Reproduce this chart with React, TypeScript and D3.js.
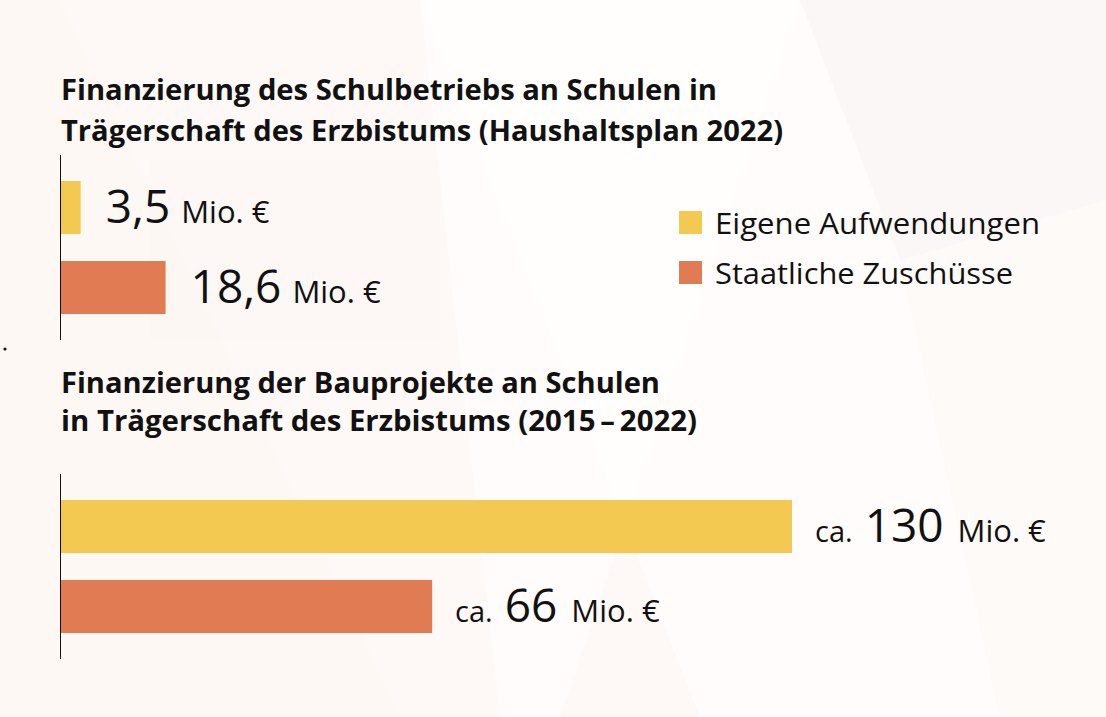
import * as d3 from "d3";

const series = ["Eigene Aufwendungen", "Staatliche Zuschüsse"];
const colors = ["#F4C952", "#E17B53"];

// Schulbetrieb (Haushaltsplan 2022), Mio. €
const betriebValues = [3.5, 18.6];
const betriebLabels = ["3,5", "18,6"];

// Bauprojekte (2015–2022), Mio. €
const bauValues = [130, 66];
const bauLabels = ["130", "66"];

const title1 = [
  "Finanzierung des Schulbetriebs an Schulen in",
  "Trägerschaft des Erzbistums (Haushaltsplan 2022)",
];
const title2 = [
  "Finanzierung der Bauprojekte an Schulen",
  "in Trägerschaft des Erzbistums (2015\u2009–\u20092022)",
];

const W = 1106;
const H = 717;
const FONT = "'Open Sans', 'Noto Sans', sans-serif";

const x = d3.scaleLinear().domain([0, 130]).range([61, 792]);

const y1 = d3.scaleBand<string>().domain(series).range([181, 314]).paddingInner(0.3375);
const y2 = d3.scaleBand<string>().domain(series).range([500, 633]).paddingInner(0.3375);

const legendWidths = [325, 298];

interface BarsProps {
  y: d3.ScaleBand<string>;
  values: number[];
  labels: string[];
  prefix?: boolean;
}

const Bars = ({ y, values, labels, prefix }: BarsProps) => {
  const [r0, r1] = y.range();
  return (
    <g>
      <line x1={60.5} x2={60.5} y1={r0 - 26} y2={r1 + 26} stroke="#111" strokeWidth={1} />
      {series.map((s, i) => {
        const top = y(s)!;
        const bw = y.bandwidth();
        const base = top + bw / 2 + 15;
        const lx = x(values[i]) + (prefix ? 23 : 25);
        return (
          <g key={s}>
            <rect x={x(0)} y={top} width={x(values[i]) - x(0)} height={bw} fill={colors[i]} />
            <text x={lx} y={base} fontFamily={FONT} fill="#111">
              {prefix && (
                <tspan fontSize={29} fontWeight={400}>
                  ca.
                </tspan>
              )}
              <tspan dx={prefix ? 12 : 0} fontSize={46} fontWeight={500}>
                {labels[i]}
              </tspan>
              <tspan dx={prefix ? 14 : 11} fontSize={31} fontWeight={400}>
                Mio. €
              </tspan>
            </text>
          </g>
        );
      })}
    </g>
  );
};

const App = () => {
  return (
    <svg width={W} height={H} style={{ display: "block", position: "absolute", left: 0, top: 0 }}>
      <rect width={W} height={H} fill="#FFFCFB" />
      {/* faint background facets */}
      <g>
        <polygon points="0,0 60,0 400,717 0,717" fill="#FBEFE9" opacity={0.3} />
        <polygon points="60,0 420,0 700,717 400,717" fill="#FDF6F3" opacity={0.4} />
        <polygon points="420,0 800,0 560,717 500,717" fill="#FFFFFF" opacity={0.5} />
        <polygon points="800,0 1106,0 1106,200 900,260" fill="#F4F1F0" opacity={0.4} />
        <polygon points="900,260 1106,200 1106,717 1000,717" fill="#FDF8F6" opacity={0.5} />
        <polygon points="150,160 440,160 440,340 150,340" fill="#FCF3EF" opacity={0.25} />
      </g>

      <g fontFamily={FONT} fontWeight={700} fontSize={28} fill="#111">
        <text x={61} y={100} textLength={656} lengthAdjust="spacingAndGlyphs">{title1[0]}</text>
        <text x={61} y={141} textLength={722} lengthAdjust="spacingAndGlyphs">{title1[1]}</text>
        <text x={61} y={393} textLength={599} lengthAdjust="spacingAndGlyphs">{title2[0]}</text>
        <text x={61} y={431} textLength={636} lengthAdjust="spacingAndGlyphs">{title2[1]}</text>
      </g>

      <Bars y={y1} values={betriebValues} labels={betriebLabels} />
      <Bars y={y2} values={bauValues} labels={bauLabels} prefix />

      <g fontFamily={FONT} fontSize={30} fill="#111">
        {series.map((s, i) => (
          <g key={s} transform={`translate(679, ${211 + i * 50})`}>
            <rect width={23} height={23} fill={colors[i]} />
            <text x={36} y={23} textLength={legendWidths[i]} lengthAdjust="spacingAndGlyphs">{s}</text>
          </g>
        ))}
      </g>

      <circle cx={5} cy={349} r={1.6} fill="#111" />
    </svg>
  );
};

export default App;
